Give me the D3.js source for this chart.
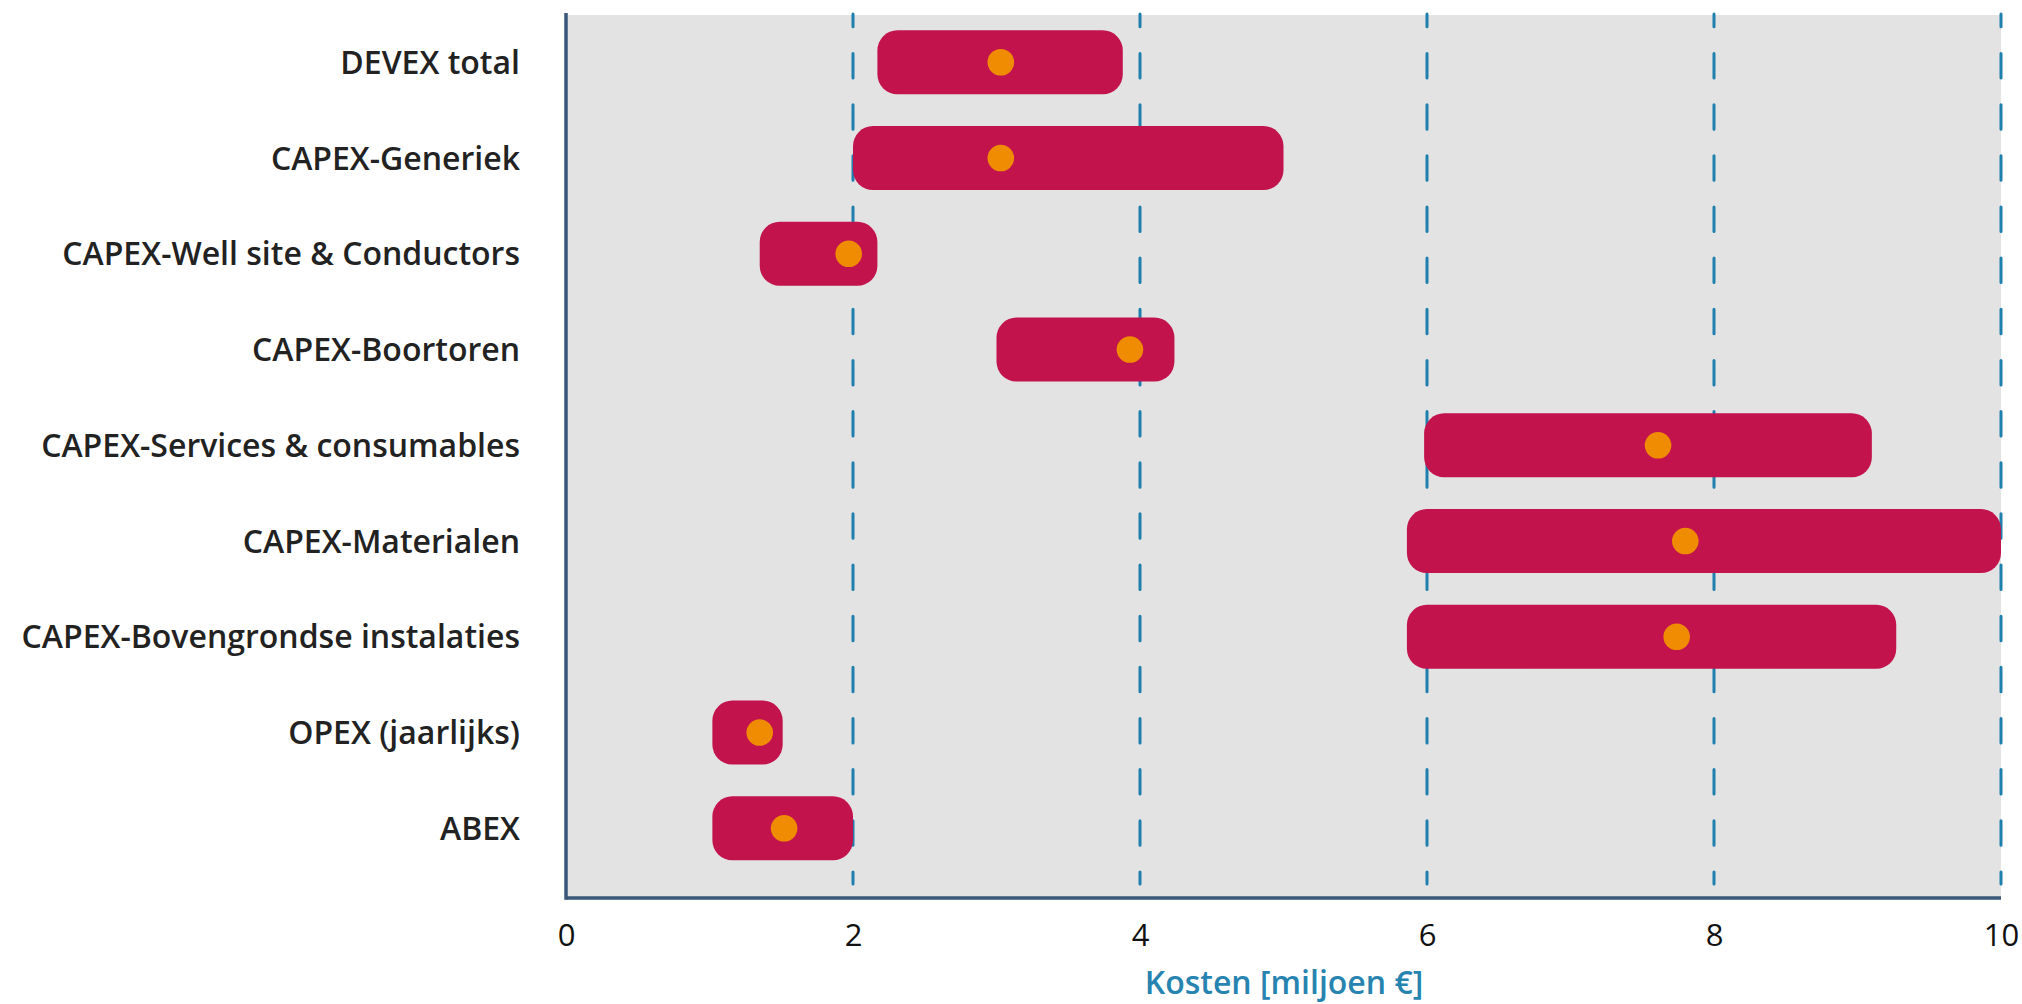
<!DOCTYPE html>
<html>
<head>
<meta charset="utf-8">
<script src="https://cdn.jsdelivr.net/npm/d3@7"></script>
<style>
  html, body { margin: 0; padding: 0; background: #ffffff; }
  svg { display: block; }
  text { font-family: "Open Sans", "Noto Sans", sans-serif; }
</style>
</head>
<body>
<svg id="chart" width="2022" height="1004"></svg>
<script>
// Cost ranges per cost item (million €): low, high and a central estimate
const categories = [
  "DEVEX total",
  "CAPEX-Generiek",
  "CAPEX-Well site & Conductors",
  "CAPEX-Boortoren",
  "CAPEX-Services & consumables",
  "CAPEX-Materialen",
  "CAPEX-Bovengrondse instalaties",
  "OPEX (jaarlijks)",
  "ABEX"
];
const lowValues  = [2.17, 2.00, 1.35, 3.00, 5.98, 5.86, 5.86, 1.02, 1.02];
const highValues = [3.88, 5.00, 2.17, 4.24, 9.10, 10.0, 9.27, 1.51, 2.00];
const midValues  = [3.03, 3.03, 1.97, 3.93, 7.61, 7.80, 7.74, 1.35, 1.52];
const xTicks = [0, 2, 4, 6, 8, 10];
const gridValues = [2, 4, 6, 8, 10];
const xTitle = "Kosten [miljoen €]";

const rows = categories.map((c, i) => ({
  name: c, lo: lowValues[i], hi: highValues[i], mid: midValues[i]
}));

const svg = d3.select("#chart");
const plot = { left: 566, right: 2001, top: 15, bottom: 898 };

const x = d3.scaleLinear().domain([0, 10]).range([plot.left, plot.right]);
const y = d3.scaleBand()
  .domain(categories)
  .range([14.4, 876.2])
  .paddingInner(0.332)
  .paddingOuter(0.166);

// plot background
svg.append("rect")
  .attr("x", plot.left).attr("y", plot.top)
  .attr("width", plot.right - plot.left)
  .attr("height", plot.bottom - plot.top)
  .attr("fill", "#e3e3e3");

// dashed vertical gridlines
svg.append("g").selectAll("line")
  .data(gridValues)
  .join("line")
  .attr("x1", d => x(d)).attr("x2", d => x(d))
  .attr("y1", 14).attr("y2", 884)
  .attr("stroke", "#1f80ae")
  .attr("stroke-width", 3)
  .attr("stroke-linecap", "round")
  .attr("stroke-dasharray", "24.5 26.65")
  .attr("stroke-dashoffset", 11.65);

// range bars
svg.append("g").selectAll("rect")
  .data(rows)
  .join("rect")
  .attr("x", d => x(d.lo))
  .attr("y", d => y(d.name))
  .attr("width", d => x(d.hi) - x(d.lo))
  .attr("height", y.bandwidth())
  .attr("rx", 20).attr("ry", 20)
  .attr("fill", "#c2134d");

// central estimates
svg.append("g").selectAll("circle")
  .data(rows)
  .join("circle")
  .attr("cx", d => x(d.mid))
  .attr("cy", d => y(d.name) + y.bandwidth() / 2)
  .attr("r", 13.3)
  .attr("fill", "#ef8c02");

// category labels
svg.append("g").selectAll("text")
  .data(rows)
  .join("text")
  .attr("x", 520)
  .attr("y", d => y(d.name) + y.bandwidth() / 2)
  .attr("dy", "0.36em")
  .attr("text-anchor", "end")
  .attr("font-size", 32)
  .attr("font-weight", 600)
  .attr("fill", "#222222")
  .text(d => d.name);

// x axis
const xAxis = d3.axisBottom(x)
  .tickValues(xTicks)
  .tickFormat(d3.format("d"))
  .tickSize(0)
  .tickPadding(26);

const gx = svg.append("g")
  .attr("transform", `translate(0,${plot.bottom})`)
  .call(xAxis);
gx.select(".domain").remove();
gx.selectAll("text")
  .attr("font-size", 31)
  .attr("font-family", "'Open Sans', sans-serif")
  .attr("fill", "#111111");

// axis lines
svg.append("line")
  .attr("x1", plot.left).attr("x2", plot.right)
  .attr("y1", plot.bottom).attr("y2", plot.bottom)
  .attr("stroke", "#3a5777").attr("stroke-width", 3.5);
svg.append("line")
  .attr("x1", plot.left).attr("x2", plot.left)
  .attr("y1", 13).attr("y2", plot.bottom + 1.75)
  .attr("stroke", "#3a5777").attr("stroke-width", 3.5);

// axis title
svg.append("text")
  .attr("x", (x(0) + x(10)) / 2 + 0.5)
  .attr("y", 994)
  .attr("text-anchor", "middle")
  .attr("font-size", 32)
  .attr("font-weight", 600)
  .attr("fill", "#2784b0")
  .text(xTitle);
</script>
</body>
</html>
